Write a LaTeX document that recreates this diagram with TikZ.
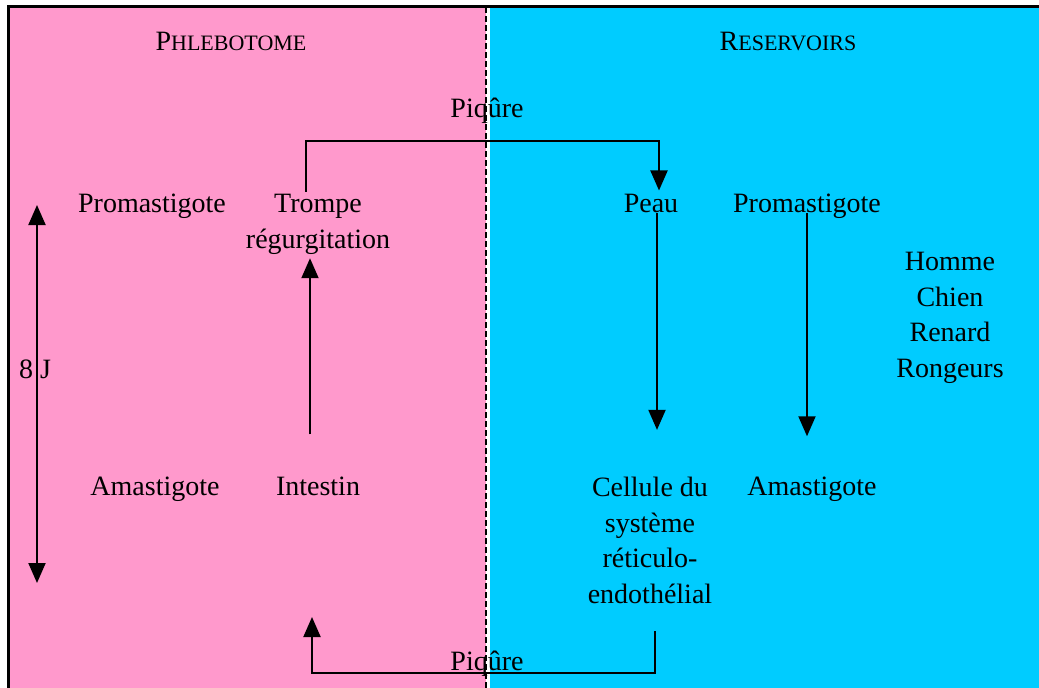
\documentclass[tikz,border=0pt]{standalone}
\usepackage{fontspec}
\setmainfont{Liberation Serif}
\usetikzlibrary{arrows.meta}
\definecolor{rosefill}{HTML}{FF99CC}
\definecolor{bluefill}{HTML}{00CCFF}
\tikzset{
  lbl/.style={inner sep=0pt, font=\fontsize{28}{35.5}\selectfont, align=center},
  ttl/.style={inner sep=0pt, anchor=base},
  arr/.style={line width=2pt, -{Triangle[length=20pt,width=17pt]}},
  dblarr/.style={line width=2pt, {Triangle[length=20pt,width=17pt]}-{Triangle[length=20pt,width=17pt]}},
}
\newcommand{\ttlbig}[1]{{\fontsize{28}{30}\selectfont #1}}
\newcommand{\ttlsmall}[1]{{\fontsize{22}{30}\selectfont #1}}
\begin{document}
\begin{tikzpicture}[x=1pt,y=-1pt]
\useasboundingbox (0,0) rectangle (1039,688);
% backgrounds
\fill[white] (0,0) rectangle (1039,688);
\fill[rosefill] (9,7) rectangle (487,688);
\fill[bluefill] (487,7) rectangle (1039,688);
\fill[white] (485.5,7) rectangle (489.5,688);
\draw[line width=1.5pt, dash pattern=on 6pt off 3pt] (486.2,7) -- (486.2,688);
% frame (top and left)
\draw[line width=3pt] (8.5,688) -- (8.5,6.5) -- (1039,6.5);

% titles
\node[ttl] (phleb) at (231,50) {\ttlbig{P}\ttlsmall{HLEBOTOME}};
\node[ttl] (reserv) at (788,50) {\ttlbig{R}\ttlsmall{ESERVOIRS}};

% labels (multi-line nodes: base = baseline of last line)
\node[lbl, anchor=base] (piq1) at (487,117) {Piqûre};
\node[lbl, anchor=base] (promL) at (152,212) {Promastigote};
\node[lbl, anchor=base] (trompe) at (318,248) {Trompe\\régurgitation};
\node[lbl, anchor=base] (peau) at (651,212) {Peau};
\node[lbl, anchor=base] (promR) at (807,212) {Promastigote};
\node[lbl, anchor=base] (hosts) at (950,377) {Homme\\Chien\\Renard\\Rongeurs};
\node[lbl, anchor=base] (eightJ) at (35,378) {8 J};
\node[lbl, anchor=base] (amaL) at (155,495) {Amastigote};
\node[lbl, anchor=base] (intestin) at (318,495) {Intestin};
\node[lbl, anchor=base] (cellule) at (650,603) {Cellule du\\système\\réticulo-\\endothélial};
\node[lbl, anchor=base] (amaR) at (812,495) {Amastigote};
\node[lbl, anchor=base] (piq2) at (487,670) {Piqûre};

% helper coordinates
\coordinate (toprow) at (487,141);
\coordinate (botrow) at (487,673);
\coordinate (jtop) at (37,205);
\coordinate (jbot) at (37,583);

% connectors
\draw[arr] ([xshift=-12pt,yshift=2pt]trompe.north) -- ([xshift=-12pt]trompe.north |- toprow) -| ([xshift=8pt,yshift=3pt]peau.north);
\draw[arr, shorten >=47pt] ([xshift=6pt,yshift=-1pt]peau.base) -- ([xshift=6pt]peau.base |- cellule.north);
\draw[arr, shorten >=40pt] ([yshift=-1pt]promR.base) -- (promR.base |- amaR.north);
\draw[arr, shorten <=42pt, shorten >=4pt] ([xshift=-8pt]intestin.north) -- ([xshift=-8pt]intestin.north |- trompe.south);
\draw[dblarr] (jtop) -- (jbot);
\draw[arr] ([xshift=5pt,yshift=-28pt]cellule.south) -- ([xshift=5pt]cellule.south |- botrow) -| ([xshift=-6pt,yshift=-122pt]intestin.base);
\end{tikzpicture}
\end{document}
